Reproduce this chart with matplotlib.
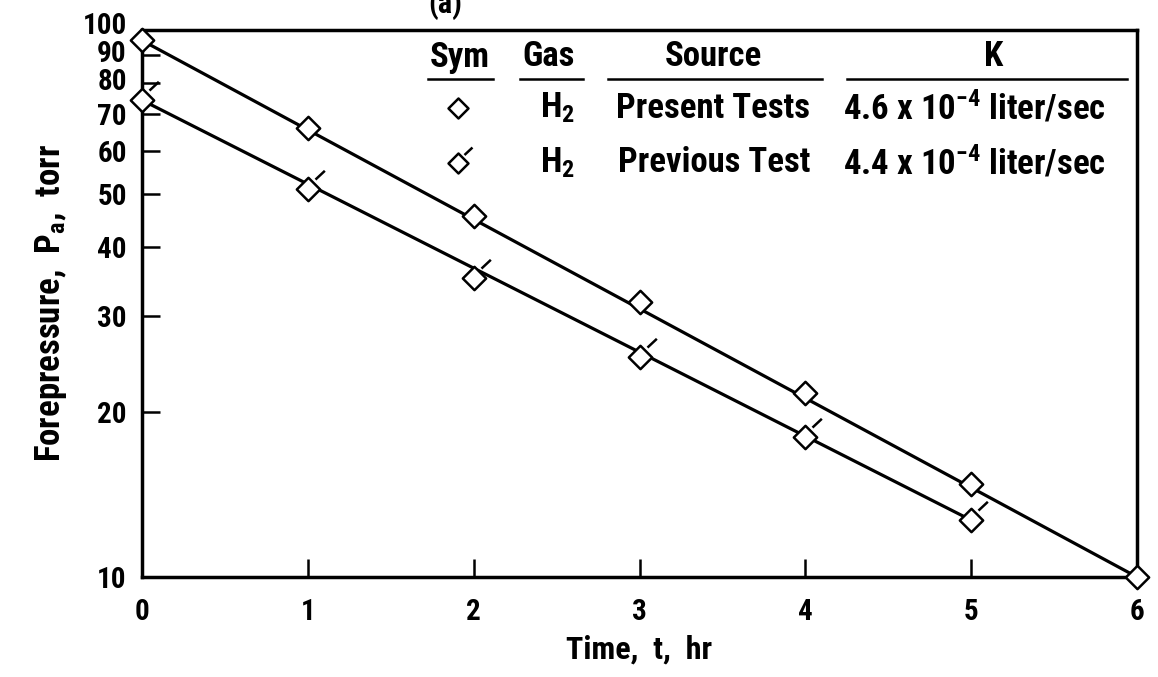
import numpy as np
import matplotlib
matplotlib.use("Agg")
import matplotlib.pyplot as plt
import matplotlib.transforms as mtransforms
from matplotlib import font_manager
from matplotlib.path import Path
from matplotlib.lines import Line2D

# 폰트: 좁은(condensed) 산세리프가 있으면 사용
_names = {f.name for f in font_manager.fontManager.ttflist}
FONT = "DejaVu Sans"
for cand in ["Roboto Condensed", "Liberation Sans Narrow", "DejaVu Sans Condensed"]:
    if cand in _names:
        FONT = cand
        break
plt.rcParams["font.family"] = [FONT, "DejaVu Sans"]
plt.rcParams["font.weight"] = "bold"
plt.rcParams["axes.labelweight"] = "bold"
plt.rcParams["mathtext.fontset"] = "custom"
plt.rcParams["mathtext.rm"] = FONT + ":bold"
plt.rcParams["mathtext.it"] = FONT + ":bold"
plt.rcParams["mathtext.bf"] = FONT + ":bold"

# ---------------------------------------------------------------------------
# data
time_present = [0, 1, 2, 3, 4, 5, 6]
p_present = [95.5, 66.0, 45.6, 31.8, 21.7, 14.8, 10.0]
time_previous = [0, 1, 2, 3, 4, 5]
p_previous = [74.3, 51.1, 35.1, 25.2, 18.0, 12.7]

# fitted straight lines (on log scale)
fit_t_present = [0, 6]
fit_p_present = [95.5, 10.0]
fit_t_previous = [0, 5]
fit_p_previous = [74.3, 12.7]

x_ticks = [0, 1, 2, 3, 4, 5, 6]
y_ticks = [10, 20, 30, 40, 50, 60, 70, 80, 90, 100]

table_header = ["Sym", "Gas", "Source", "K"]
table_gas = ["H$_2$", "H$_2$"]
table_source = ["Present Tests", "Previous Test"]
table_k = ["4.6 x 10$^{-4}$ liter/sec", "4.4 x 10$^{-4}$ liter/sec"]

# ---------------------------------------------------------------------------
W, H = 1158, 677
DIAMOND = Path([(0, 1), (1, 0), (0, -1), (-1, 0), (0, 1)],
               [Path.MOVETO, Path.LINETO, Path.LINETO, Path.LINETO, Path.CLOSEPOLY])
FLAGGED = Path([(0, 1), (1, 0), (0, -1), (-1, 0), (0, 1), (0.6, 0.85), (1.4, 1.6)],
               [Path.MOVETO, Path.LINETO, Path.LINETO, Path.LINETO, Path.CLOSEPOLY,
                Path.MOVETO, Path.LINETO])


def fx(x):
    return x / W


def fy(y):
    return 1 - y / H


fig = plt.figure(figsize=(W / 100, H / 100), dpi=100)
ax = fig.add_axes([fx(142), fy(577), fx(1137) - fx(142), fy(29.5) - fy(577)])

ax.set_yscale("log")
ax.set_xlim(0, 6)
ax.set_ylim(10, 100)

ax.plot(fit_t_present, fit_p_present, color="black", lw=2.3, zorder=2)
ax.plot(fit_t_previous, fit_p_previous, color="black", lw=2.3, zorder=2)
ax.plot(time_present, p_present, ls="none", marker=DIAMOND, ms=16.8,
        mfc="white", mec="black", mew=1.8, zorder=4, clip_on=False)
ax.plot(time_previous, p_previous, ls="none", marker=FLAGGED, ms=26.9,
        mfc="white", mec="black", mew=1.8, zorder=4, clip_on=False)

ax.set_xticks(x_ticks)
ax.set_xticklabels([str(v) for v in x_ticks])
ax.set_yticks(y_ticks)
ax.set_yticklabels([str(v) for v in y_ticks])
ax.yaxis.set_minor_locator(matplotlib.ticker.NullLocator())
ax.tick_params(axis="both", direction="in", length=13, width=1.8, labelsize=21)
ax.tick_params(axis="x", pad=15)
ax.tick_params(axis="y", pad=11)
for sp in ax.spines.values():
    sp.set_linewidth(2.5)

# 위쪽 눈금 라벨은 원본처럼 살짝 위로
for lab, v in zip(ax.get_yticklabels(), y_ticks):
    dy = 7 if v == 100 else (4 if v >= 80 else 0)
    lab.set_transform(lab.get_transform() +
                      mtransforms.ScaledTranslation(0, dy / 100, fig.dpi_scale_trans))

ax.set_xlabel("Time,  t,  hr", fontsize=23, labelpad=6)
ax.set_ylabel("Forepressure,  P$_a$,  torr", fontsize=25, labelpad=10)

# 부분적으로 잘린 제목
fig.text(fx(428), fy(13), "(a)", fontsize=22, va="baseline", ha="left")

# 범례 표
tf = fig.transFigure
hy = fy(57)
ul = fy(79)
fs = 25
fig.text(fx(460), hy, table_header[0], ha="center", va="center", fontsize=fs)
fig.text(fx(549), hy, table_header[1], ha="center", va="center", fontsize=fs)
fig.text(fx(713), hy, table_header[2], ha="center", va="center", fontsize=fs)
fig.text(fx(994), hy, table_header[3], ha="center", va="center", fontsize=fs)
for x0, x1 in [(428, 493), (520, 583), (608, 822), (847, 1127)]:
    fig.add_artist(Line2D([fx(x0), fx(x1)], [ul, ul], transform=tf, color="black", lw=1.8))

row_y = [fy(108), fy(163)]
fig.add_artist(Line2D([fx(458)], [row_y[0]], transform=tf, ls="none", marker=DIAMOND,
                      ms=14.4, mfc="white", mec="black", mew=1.8))
fig.add_artist(Line2D([fx(458)], [row_y[1]], transform=tf, ls="none", marker=FLAGGED,
                      ms=23, mfc="white", mec="black", mew=1.8))
for i in range(2):
    fig.text(fx(540), row_y[i], table_gas[i], ha="left", va="center", fontsize=fs)
    fig.text(fx(810), row_y[i], table_source[i], ha="right", va="center", fontsize=fs)
    fig.text(fx(843), row_y[i], table_k[i], ha="left", va="center", fontsize=fs)

fig.savefig("out.png", dpi=100)
